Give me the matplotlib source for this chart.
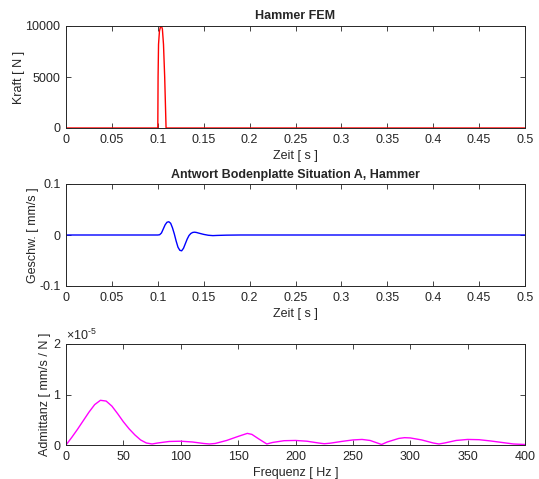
import matplotlib
matplotlib.use("Agg")
import matplotlib.pyplot as plt

# force pulse of the hammer
t_force = [0.0, 0.1, 0.1003, 0.1008, 0.1018, 0.1030, 0.1040, 0.1050, 0.1062, 0.1075, 0.1090, 0.5]
force = [0, 0, 5000, 8200, 9500, 9950, 10000, 9700, 8200, 5000, 0, 0]

# velocity response of the floor plate
t_vel = [0.0, 0.100, 0.102, 0.104, 0.106, 0.108, 0.110, 0.112, 0.114, 0.116, 0.118,
         0.120, 0.122, 0.124, 0.126, 0.128, 0.130, 0.132, 0.134, 0.136, 0.138,
         0.140, 0.142, 0.145, 0.150, 0.155, 0.160, 0.165, 0.175, 0.190, 0.5]
vel = [0.0, 0.0, 0.0005, 0.004, 0.012, 0.020, 0.025, 0.026, 0.023, 0.014, 0.002,
       -0.012, -0.024, -0.030, -0.031, -0.026, -0.017, -0.008, -0.001, 0.003, 0.005,
       0.0055, 0.005, 0.0035, 0.0012, -0.0005, -0.0012, -0.0008, -0.0003, 0.0, 0.0]

# admittance spectrum (x 1e-5)
freq = [0, 5, 10, 15, 20, 25, 30, 35, 40, 45, 50, 55, 60, 65, 70, 75, 80, 90, 100,
        110, 120, 125, 130, 140, 150, 158, 162, 168, 175, 180, 190, 200, 210, 220,
        225, 230, 240, 250, 258, 265, 270, 275, 280, 290, 295, 300, 310, 320, 325,
        330, 340, 350, 360, 370, 380, 390, 400]
adm = [0.0, 0.15, 0.31, 0.48, 0.65, 0.80, 0.885, 0.87, 0.77, 0.62, 0.46, 0.32,
       0.2, 0.1, 0.04, 0.02, 0.04, 0.07, 0.075, 0.06, 0.03, 0.02, 0.03, 0.09, 0.17,
       0.23, 0.21, 0.12, 0.02, 0.05, 0.085, 0.09, 0.075, 0.04, 0.025, 0.035, 0.07,
       0.1, 0.11, 0.09, 0.05, 0.01, 0.06, 0.13, 0.145, 0.14, 0.1, 0.04, 0.02, 0.04,
       0.09, 0.11, 0.105, 0.08, 0.05, 0.02, 0.01]
adm = [a * 1e-5 for a in adm]

time_ticks = [0, 0.05, 0.1, 0.15, 0.2, 0.25, 0.3, 0.35, 0.4, 0.45, 0.5]
time_labels = ['0', '0.05', '0.1', '0.15', '0.2', '0.25', '0.3', '0.35', '0.4', '0.45', '0.5']

plt.rcParams['font.family'] = ['Liberation Sans', 'DejaVu Sans']
plt.rcParams['axes.unicode_minus'] = False
plt.rcParams['font.size'] = 9
plt.rcParams['axes.edgecolor'] = '#262626'
plt.rcParams['xtick.color'] = '#262626'
plt.rcParams['ytick.color'] = '#262626'
plt.rcParams['text.color'] = '#262626'
plt.rcParams['axes.labelcolor'] = '#262626'
plt.rcParams['mathtext.fontset'] = 'custom'
plt.rcParams['mathtext.rm'] = 'Liberation Sans'

fig = plt.figure(figsize=(5.39, 4.79), dpi=100)
left, width = 66 / 539, 459 / 539
ax1 = fig.add_axes([left, 1 - 128 / 479, width, 102 / 479])
ax2 = fig.add_axes([left, 1 - 286 / 479, width, 102 / 479])
ax3 = fig.add_axes([left, 1 - 445 / 479, width, 101 / 479])

def style(ax):
    ax.tick_params(direction='in', top=True, right=True, length=3.5, width=0.6,
                   labelsize=9)
    ax.tick_params(axis='x', pad=4)
    ax.tick_params(axis='y', pad=4)
    for s in ax.spines.values():
        s.set_linewidth(0.7)

ax1.plot(t_force, force, color='red', lw=1.0)
ax1.set_xlim(0, 0.5)
ax1.set_ylim(0, 10000)
ax1.set_xticks(time_ticks)
ax1.set_xticklabels(time_labels)
ax1.set_yticks([0, 5000, 10000])
ax1.set_yticklabels(['0', '5000', '10000'])
ax1.set_xlabel('Zeit [ s ]', labelpad=3)
ax1.set_ylabel('Kraft [ N ]', labelpad=0)
ax1.set_title('Hammer FEM', fontweight='bold', fontsize=9, pad=5)
style(ax1)

ax2.plot(t_vel, vel, color='blue', lw=1.0)
ax2.set_xlim(0, 0.5)
ax2.set_ylim(-0.1, 0.1)
ax2.set_xticks(time_ticks)
ax2.set_xticklabels(time_labels)
ax2.set_yticks([-0.1, 0, 0.1])
ax2.set_yticklabels(['-0.1', '0', '0.1'])
ax2.set_xlabel('Zeit [ s ]', labelpad=3)
ax2.set_ylabel('Geschw. [ mm/s ]', labelpad=0)
ax2.set_title('Antwort Bodenplatte Situation A, Hammer', fontweight='bold', fontsize=9, pad=4)
style(ax2)

ax3.plot(freq, adm, color='magenta', lw=1.0)
ax3.set_xlim(0, 400)
ax3.set_ylim(0, 2e-5)
ax3.set_xticks([0, 50, 100, 150, 200, 250, 300, 350, 400])
ax3.set_yticks([0, 1e-5, 2e-5])
ax3.set_yticklabels(['0', '1', '2'])
ax3.text(0.0, 1.01, r'$\times10^{\text{-}5}$', transform=ax3.transAxes, fontsize=9,
         ha='left', va='bottom')
ax3.set_xlabel('Frequenz [ Hz ]', labelpad=3)
ax3.set_ylabel('Admittanz [ mm/s / N ]', labelpad=2)
style(ax3)

fig.savefig('out.png', dpi=100)
